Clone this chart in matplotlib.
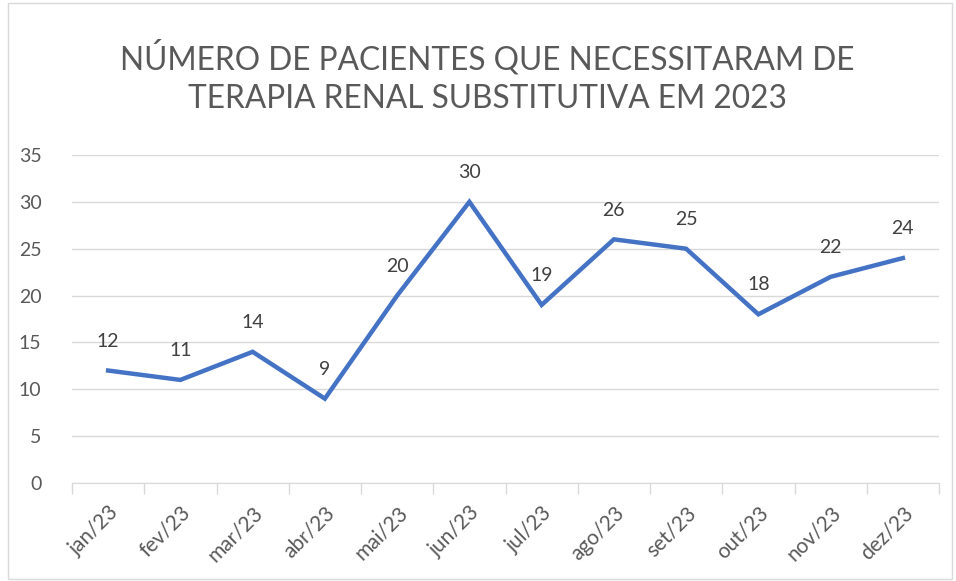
import numpy as np
import matplotlib.pyplot as plt
from matplotlib.patches import Rectangle

# Dados
meses = ['jan/23', 'fev/23', 'mar/23', 'abr/23', 'mai/23', 'jun/23',
         'jul/23', 'ago/23', 'set/23', 'out/23', 'nov/23', 'dez/23']
pacientes = [12, 11, 14, 9, 20, 30, 19, 26, 25, 18, 22, 24]
y_ticks = [0, 5, 10, 15, 20, 25, 30, 35]

plt.rcParams['font.family'] = ['Lato', 'DejaVu Sans']

fig = plt.figure(figsize=(9.56, 5.81), dpi=100)
ax = fig.add_axes([72 / 956, 1 - 483 / 581, 867 / 956, 328 / 581])

# Moldura do gráfico
fig.patches.append(Rectangle((8 / 956, 2 / 581), 944 / 956, 576 / 581,
                             transform=fig.transFigure, fill=False,
                             edgecolor='#d9d9d9', linewidth=1))

x = np.arange(len(meses))
ax.plot(x, pacientes, color='#4472C4', linewidth=3.2, solid_joinstyle='miter')

for xi, v in zip(x, pacientes):
    ax.annotate(str(v), (xi, v), xytext=(0, 15), textcoords='offset points',
                ha='center', va='bottom', fontsize=14, color='#404040')

ax.set_xlim(-0.5, len(meses) - 0.5)
ax.set_ylim(0, 35)
ax.set_yticks(y_ticks)
ax.set_yticklabels([str(t) for t in y_ticks], fontsize=14, color='#595959')
ax.grid(axis='y', color='#d9d9d9', linewidth=1)
ax.set_axisbelow(True)

ax.set_xticks(x)
ax.set_xticklabels(meses, rotation=45, ha='right', rotation_mode='anchor',
                   fontsize=15, color='#595959')
ax.set_xticks(np.arange(-0.5, len(meses), 1), minor=True)
ax.tick_params(axis='x', which='major', length=0, pad=14)
ax.tick_params(axis='x', which='minor', length=8, color='#d9d9d9', width=1)
ax.tick_params(axis='y', length=0, pad=22)

for s in ['top', 'right', 'left']:
    ax.spines[s].set_visible(False)
ax.spines['bottom'].set_color('#d9d9d9')

fig.text(0.51, 1 - 77 / 581,
         'NÚMERO DE PACIENTES QUE NECESSITARAM DE\nTERAPIA RENAL SUBSTITUTIVA EM 2023',
         ha='center', va='center', fontsize=22.8, color='#595959', linespacing=1.35)

fig.savefig('out.png', dpi=100)
